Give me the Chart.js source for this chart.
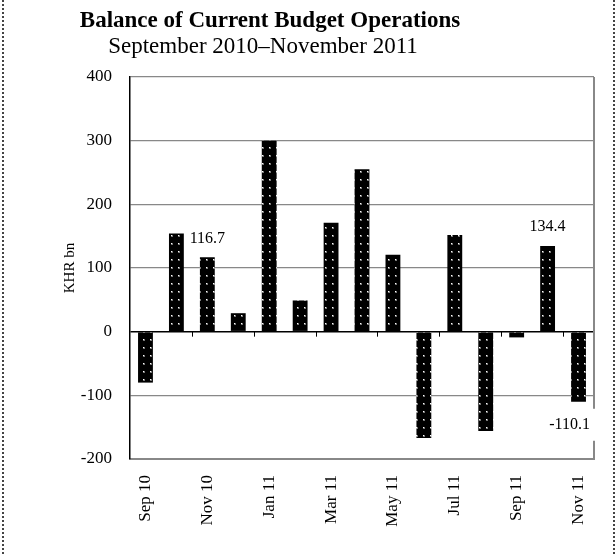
<!DOCTYPE html>
<html>
<head>
<meta charset="utf-8">
<script src="https://cdn.jsdelivr.net/npm/chart.js@4.4.0/dist/chart.umd.min.js"></script>
<style>
  body { margin: 0; background: #fff; }
  #wrap { position: relative; width: 616px; height: 554px; }
  #edge { position: absolute; left: 2px; top: 0; width: 609px; height: 554px;
          border-left: 2px dotted #444; border-right: 2px dotted #444; pointer-events: none; }
</style>
</head>
<body>
<div id="wrap">
  <canvas id="myChart" width="616" height="554"></canvas>
  <div id="edge"></div>
</div>
<script>
const months = ['Sep 10', 'Oct 10', 'Nov 10', 'Dec 10', 'Jan 11', 'Feb 11', 'Mar 11', 'Apr 11',
  'May 11', 'Jun 11', 'Jul 11', 'Aug 11', 'Sep 11', 'Oct 11', 'Nov 11'];
const balance = [-80, 154, 116.7, 29, 300, 49, 171, 255, 121, -167, 152, -156, -9, 134.4, -110.1];
const yTicks = [-200, -100, 0, 100, 200, 300, 400];
const labelledBars = [2, 13, 14];

const serif = 'Liberation Serif';

// black bars with little white dots
function dotPattern() {
  const c = document.createElement('canvas');
  c.width = 7; c.height = 8;
  const g = c.getContext('2d');
  g.fillStyle = '#000';
  g.fillRect(0, 0, 7, 8);
  g.fillStyle = '#777';
  g.fillRect(3, 3, 2, 2);
  g.fillStyle = '#fff';
  g.fillRect(3, 3, 1, 1);
  return g.createPattern(c, 'repeat');
}

const extras = {
  id: 'extras',
  afterDraw(chart) {
    const ctx = chart.ctx;
    const area = chart.chartArea;
    const xs = chart.scales.x, ys = chart.scales.y;
    ctx.save();

    // right frame
    ctx.strokeStyle = '#888';
    ctx.lineWidth = 2;
    ctx.beginPath();
    ctx.moveTo(area.right, area.top);
    ctx.lineTo(area.right, area.bottom);
    ctx.stroke();

    // small ticks under the zero line
    const y0 = ys.getPixelForValue(0);
    ctx.strokeStyle = '#000';
    ctx.lineWidth = 1;
    for (let k = 2; k < months.length; k += 2) {
      const x = Math.round((xs.getPixelForValue(k - 1) + xs.getPixelForValue(k)) / 2) + 0.5;
      ctx.beginPath();
      ctx.moveTo(x, y0);
      ctx.lineTo(x, y0 + 5);
      ctx.stroke();
    }

    // value labels
    const meta = chart.getDatasetMeta(0);
    ctx.font = '16px "' + serif + '"';
    ctx.textAlign = 'center';
    ctx.textBaseline = 'middle';
    labelledBars.forEach(i => {
      const bar = meta.data[i];
      const txt = String(balance[i]);
      const w = ctx.measureText(txt).width;
      let x = Math.min(bar.x, area.right - w / 2 - 4);
      const y = balance[i] >= 0 ? bar.y - 19 : bar.y + 23;
      if (balance[i] < 0) {
        ctx.fillStyle = '#fff';
        ctx.fillRect(x - w / 2 - 2, y - 16, area.right + 3 - (x - w / 2 - 2), 32);
      }
      ctx.fillStyle = '#000';
      ctx.fillText(txt, x, y);
    });

    // headline
    ctx.fillStyle = '#000';
    ctx.textBaseline = 'alphabetic';
    ctx.font = 'bold 23px "' + serif + '"';
    ctx.fillText('Balance of Current Budget Operations', 270, 27);
    ctx.font = '23px "' + serif + '"';
    ctx.fillText('September 2010\u2013November 2011', 263, 53);
    ctx.restore();
  }
};

const ctx = document.getElementById('myChart').getContext('2d');
const data = {
  labels: months,
  datasets: [{
    data: balance,
    backgroundColor: dotPattern(),
    borderWidth: 0,
    barPercentage: 0.48,
    categoryPercentage: 1
  }]
};
const config = {
  type: 'bar',
  data: data,
  options: {
    responsive: false,
    animation: false,
    layout: { padding: { left: 61, right: 22, top: 77, bottom: 0 } },
    plugins: {
      legend: { display: false },
      title: { display: false },
      tooltip: { enabled: false }
    },
    scales: {
      x: {
        offset: true,
        grid: { display: false },
        border: { color: '#888', width: 2 },
        ticks: {
          autoSkip: false,
          maxRotation: 90,
          minRotation: 90,
          padding: 8,
          color: '#000',
          font: { family: serif, size: 17 },
          callback: (v, i) => (i % 2 === 0 ? months[i] : '')
        },
        afterFit: s => { s.height = 95; }
      },
      y: {
        min: -200,
        max: 400,
        afterBuildTicks: s => { s.ticks = yTicks.map(v => ({ value: v })); },
        grid: {
          drawTicks: false,
          color: c => (c.tick && c.tick.value === 0 ? '#000' : '#888'),
          lineWidth: c => (c.tick && c.tick.value === 0 ? 1.5 : 1.2)
        },
        border: { color: '#000', width: 1.5 },
        ticks: {
          padding: 18,
          color: '#000',
          font: { family: serif, size: 17 }
        },
        title: {
          display: true,
          text: 'KHR bn',
          color: '#000',
          padding: 0,
          font: { family: serif, size: 15 }
        },
        afterFit: s => { s.width = 69; }
      }
    }
  },
  plugins: [extras]
};
const myChart = new Chart(ctx, config);
</script>
</body>
</html>
